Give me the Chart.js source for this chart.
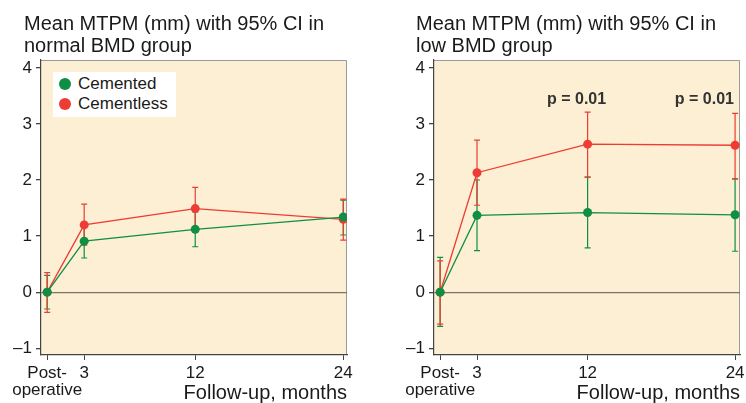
<!DOCTYPE html>
<html>
<head>
<meta charset="utf-8">
<script src="https://cdn.jsdelivr.net/npm/chart.js@4/dist/chart.umd.min.js"></script>
<style>
  body { margin: 0; background: #fff; }
  #wrap { position: relative; width: 746px; height: 403px; font-family: 'Liberation Sans', Arial, sans-serif; color: #1a1a1a; }
  canvas { position: absolute; top: 0; }
  .title { position: absolute; top: 12px; font-size: 20px; line-height: 22px; white-space: nowrap; }
  .legend { position: absolute; left: 53px; top: 72px; width: 123px; height: 45px; background: #fff; font-size: 17px; }
  .legend div { position: absolute; left: 25px; height: 20px; line-height: 20px; }
  .legend span { position: absolute; left: -19px; top: 4px; width: 12px; height: 12px; border-radius: 50%; }
</style>
</head>
<body>
<div id="wrap">
  <canvas id="chartNormal" width="373" height="403" style="left:0"></canvas>
  <canvas id="chartLow" width="373" height="403" style="left:373px"></canvas>
  <div class="title" style="left:24px">Mean MTPM (mm) with 95% CI in<br>normal BMD group</div>
  <div class="title" style="left:416px">Mean MTPM (mm) with 95% CI in<br>low BMD group</div>
  <div class="legend">
    <div style="top:2px"><span style="background:#0e8f43"></span>Cemented</div>
    <div style="top:22px"><span style="background:#ee3c34"></span>Cementless</div>
  </div>
</div>
<script>
// x positions (months after operation) and labels
const months = [0, 3, 12, 24];
const xTickLabels = [['Post-', 'operative'], '3', '12', '24'];
const yTicks = [-1, 0, 1, 2, 3, 4];

// normal BMD group
const normCemMean = [0, 0.91, 1.12, 1.34];
const normCemLow = [-0.30, 0.61, 0.81, 1.02];
const normCemHigh = [0.30, 1.21, 1.43, 1.64];
const normLessMean = [0, 1.20, 1.49, 1.30];
const normLessLow = [-0.36, 0.84, 1.11, 0.93];
const normLessHigh = [0.35, 1.57, 1.87, 1.66];

// low BMD group
const lowCemMean = [0, 1.37, 1.42, 1.38];
const lowCemLow = [-0.61, 0.74, 0.79, 0.73];
const lowCemHigh = [0.62, 2.00, 2.05, 2.02];
const lowLessMean = [0, 2.13, 2.64, 2.62];
const lowLessLow = [-0.57, 1.55, 2.05, 2.02];
const lowLessHigh = [0.56, 2.71, 3.21, 3.19];

// p-value notes (low BMD group)
const pLabels = ['p = 0.01', 'p = 0.01'];
const pLabelX = [11.1, 21.5];
const pLabelY = 3.43;

const GREEN = '#0e8f43';
const RED = '#ee3c34';

Chart.defaults.font.family = "'Liberation Sans', Arial, sans-serif";
Chart.defaults.color = '#1a1a1a';

const plotBg = {
    id: 'plotBg',
    beforeDraw(chart) {
        const { ctx, chartArea: a } = chart;
        ctx.save();
        ctx.fillStyle = '#fdefd3';
        ctx.fillRect(a.left, a.top, a.right - a.left, a.bottom - a.top);
        ctx.strokeStyle = '#9a9a9a';
        ctx.lineWidth = 1;
        ctx.beginPath();
        ctx.moveTo(a.left, a.top + 0.5);
        ctx.lineTo(a.right - 0.5, a.top + 0.5);
        ctx.lineTo(a.right - 0.5, a.bottom);
        ctx.stroke();
        ctx.restore();
    }
};

const errorBars = {
    id: 'errorBars',
    beforeDatasetsDraw(chart) {
        const { ctx, scales: { x, y } } = chart;
        ctx.save();
        ctx.lineWidth = 1.2;
        chart.data.datasets.forEach(ds => {
            ctx.strokeStyle = ds.borderColor;
            ds.data.forEach((pt, i) => {
                const px = x.getPixelForValue(pt.x);
                const lo = y.getPixelForValue(ds.ciLow[i]);
                const hi = y.getPixelForValue(ds.ciHigh[i]);
                ctx.beginPath();
                ctx.moveTo(px, lo); ctx.lineTo(px, hi);
                ctx.moveTo(px - 3, lo); ctx.lineTo(px + 3, lo);
                ctx.moveTo(px - 3, hi); ctx.lineTo(px + 3, hi);
                ctx.stroke();
            });
        });
        ctx.restore();
    }
};

const pNotes = {
    id: 'pNotes',
    afterDatasetsDraw(chart, args, opts) {
        if (!opts.show) return;
        const { ctx, scales: { x, y } } = chart;
        ctx.save();
        ctx.font = "bold 16px 'Liberation Sans', Arial, sans-serif";
        ctx.fillStyle = '#333';
        ctx.textAlign = 'center';
        ctx.textBaseline = 'middle';
        pLabels.forEach((t, i) => {
            ctx.fillText(t, x.getPixelForValue(pLabelX[i]), y.getPixelForValue(pLabelY));
        });
        ctx.restore();
    }
};

function series(label, color, mean, low, high) {
    return {
        label,
        data: months.map((m, i) => ({ x: m, y: mean[i] })),
        ciLow: low,
        ciHigh: high,
        borderColor: color,
        backgroundColor: color,
        borderWidth: 1.3,
        pointRadius: 4.5,
        pointBorderWidth: 0,
        showLine: true,
        tension: 0
    };
}

function makeChart(id, cem, less, padLeft, padRight, xMax, showP) {
    return new Chart(document.getElementById(id), {
        type: 'scatter',
        data: {
            datasets: [
                series('Cemented', GREEN, cem[0], cem[1], cem[2]),
                series('Cementless', RED, less[0], less[1], less[2])
            ]
        },
        options: {
            responsive: false,
            animation: false,
            devicePixelRatio: 1,
            layout: { padding: { top: 60, left: padLeft, right: padRight, bottom: 0 } },
            plugins: {
                legend: { display: false },
                tooltip: { enabled: false },
                pNotes: { show: showP }
            },
            scales: {
                x: {
                    type: 'linear',
                    min: -0.5,
                    max: xMax,
                    afterBuildTicks: s => { s.ticks = months.map(v => ({ value: v })); },
                    afterFit: s => { s.height = 48; s.paddingLeft = 0; s.paddingRight = 0; },
                    ticks: {
                        autoSkip: false,
                        maxRotation: 0,
                        padding: 5,
                        color: '#1a1a1a',
                        font: { size: 17, lineHeight: 1 },
                        callback: (v, i) => xTickLabels[i]
                    },
                    grid: { drawOnChartArea: false, tickLength: 5, tickColor: '#444' },
                    border: { color: '#444', width: 1.2 },
                    title: {
                        display: true,
                        text: 'Follow-up, months',
                        align: 'end',
                        color: '#1a1a1a',
                        font: { size: 20, lineHeight: 1 },
                        padding: { top: 0, bottom: 0 }
                    }
                },
                y: {
                    min: -1.12,
                    max: 4.14,
                    afterBuildTicks: s => { s.ticks = yTicks.map(v => ({ value: v })); },
                    afterFit: s => { s.width = 41; },
                    ticks: {
                        padding: 4,
                        color: '#1a1a1a',
                        font: { size: 17 },
                        callback: v => v < 0 ? '\u2013' + Math.abs(v) : String(v)
                    },
                    grid: {
                        drawOnChartArea: true,
                        tickLength: 5,
                        tickColor: '#444',
                        lineWidth: 1.3,
                        color: c => (c.tick && c.tick.value === 0) ? '#7d736b' : 'rgba(0,0,0,0)'
                    },
                    border: { color: '#444', width: 1.2 }
                }
            }
        },
        plugins: [plotBg, errorBars, pNotes]
    });
}

makeChart('chartNormal',
    [normCemMean, normCemLow, normCemHigh],
    [normLessMean, normLessLow, normLessHigh],
    0, 26, 24.3, false);

makeChart('chartLow',
    [lowCemMean, lowCemLow, lowCemHigh],
    [lowLessMean, lowLessLow, lowLessHigh],
    20, 6, 24.4, true);
</script>
</body>
</html>
